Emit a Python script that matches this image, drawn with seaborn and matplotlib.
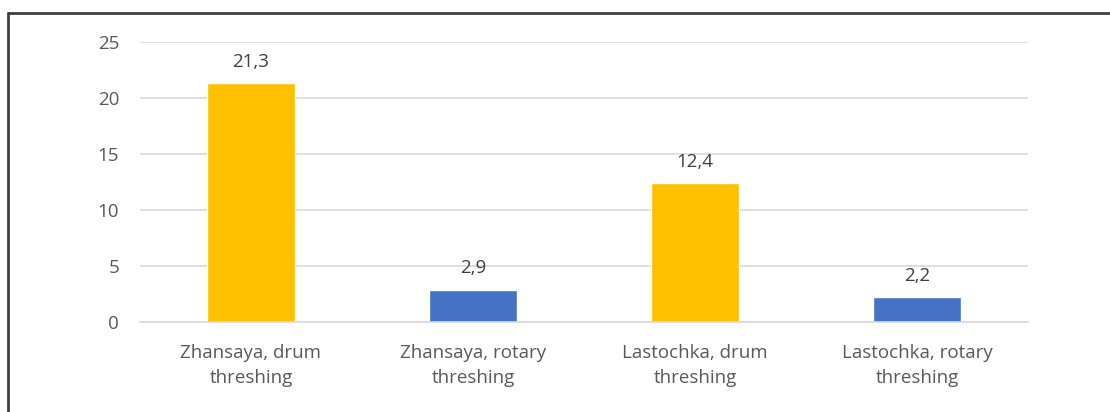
import matplotlib
matplotlib.use("Agg")
import matplotlib.pyplot as plt
import seaborn as sns
import pandas as pd
from matplotlib.lines import Line2D

categories = ["Zhansaya, drum\nthreshing", "Zhansaya, rotary\nthreshing",
              "Lastochka, drum\nthreshing", "Lastochka, rotary\nthreshing"]
values = [21.3, 2.9, 12.4, 2.2]
value_labels = ["21,3", "2,9", "12,4", "2,2"]
bar_colors = ["#FFC000", "#4472C4", "#FFC000", "#4472C4"]
yticks = [0, 5, 10, 15, 20, 25]

sns.set_theme(style="white")
plt.rcParams["font.family"] = ["Open Sans", "DejaVu Sans"]

df = pd.DataFrame({"cat": categories, "val": values})

fig = plt.figure(figsize=(11.1, 4.12), dpi=100)
ax = fig.add_axes([140/1110, 1-322/412, 888/1110, 280/412])

sns.barplot(data=df, x="cat", y="val", hue="cat", palette=bar_colors,
            legend=False, width=0.4, ax=ax, saturation=1)

ax.set_ylim(0, 25)
ax.set_xlim(-0.5, 3.5)
ax.set_yticks(yticks)
ax.set_yticklabels([str(t) for t in yticks])
ax.yaxis.grid(True, color="#D9D9D9", linewidth=1.2)
ax.set_axisbelow(True)
for s in ["top", "right", "left"]:
    ax.spines[s].set_visible(False)
ax.spines["bottom"].set_color("#D9D9D9")
ax.spines["bottom"].set_linewidth(1.2)
ax.set_xlabel("")
ax.set_ylabel("")
ax.tick_params(axis="y", length=0, pad=15, labelsize=13.5, labelcolor="#595959")
ax.tick_params(axis="x", length=0, pad=16, labelsize=13.5, labelcolor="#595959")
for lbl in ax.get_xticklabels():
    lbl.set_linespacing(1.45)

for i, (v, t) in enumerate(zip(values, value_labels)):
    ax.annotate(t, (i, v), xytext=(0, 9), textcoords="offset points",
                ha="center", va="bottom", fontsize=13.5, color="#404040")

# figure border (left and top visible, rest cropped)
fig.add_artist(Line2D([8/1110, 8/1110], [0, 1-13/412], transform=fig.transFigure,
                      color="#404040", linewidth=2))
fig.add_artist(Line2D([8/1110, 1], [1-13/412, 1-13/412], transform=fig.transFigure,
                      color="#404040", linewidth=2))

fig.savefig("out.png", dpi=100)
